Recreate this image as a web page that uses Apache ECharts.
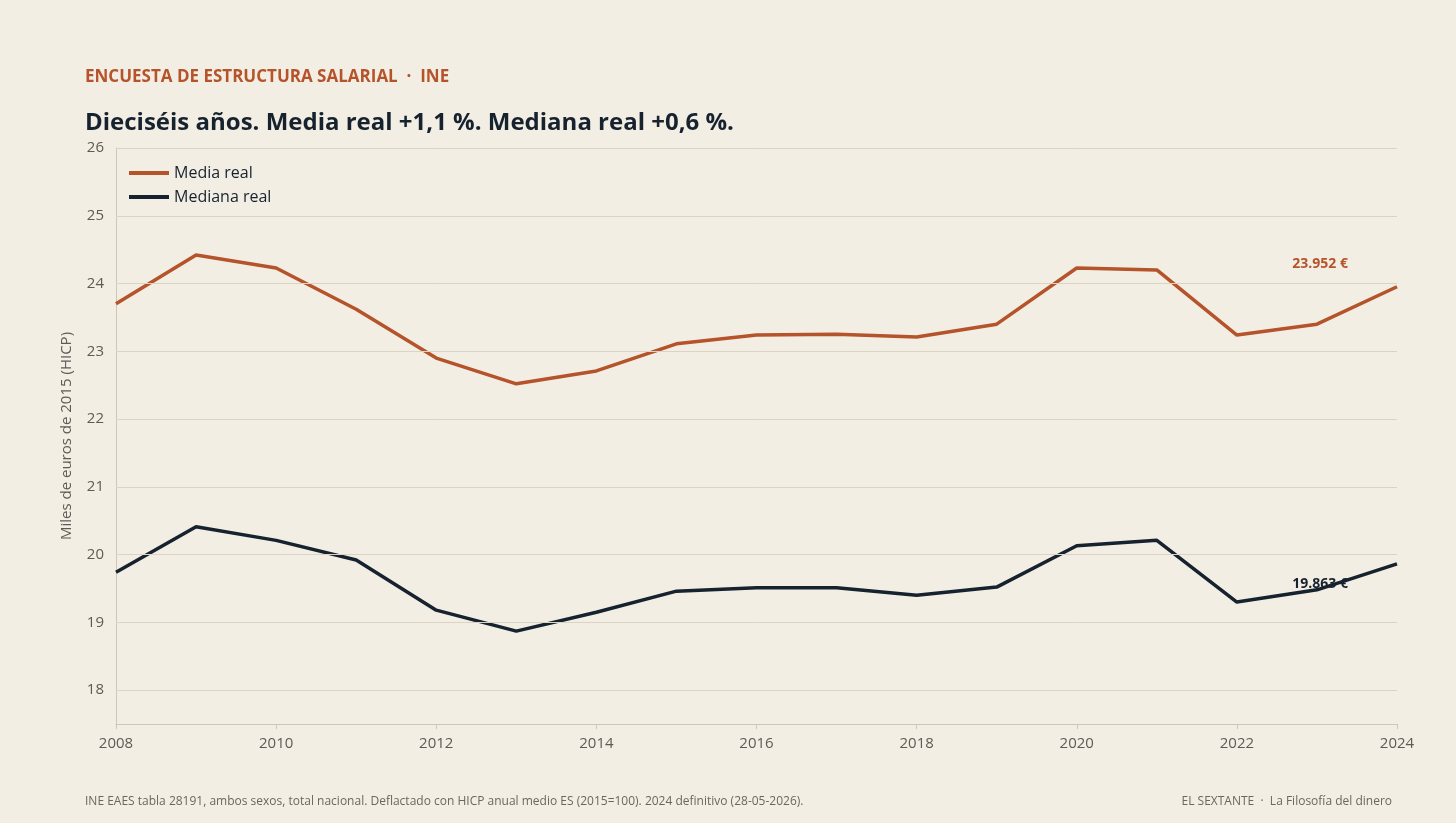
<!DOCTYPE html>
<html lang="es">
<head>
<meta charset="UTF-8">
<title>Encuesta de Estructura Salarial</title>
<script src="https://cdn.jsdelivr.net/npm/echarts@6/dist/echarts.min.js"></script>
<style>
	html, body { margin: 0; padding: 0; background: #f3eee4; }
	#main { width: 1456px; height: 823px; }
</style>
</head>
<body>
<div id="main"></div>
<script>
// datos
var years = [2008, 2009, 2010, 2011, 2012, 2013, 2014, 2015, 2016, 2017, 2018, 2019, 2020, 2021, 2022, 2023, 2024];
var mediaReal = [23.70, 24.42, 24.23, 23.62, 22.90, 22.52, 22.71, 23.11, 23.24, 23.25, 23.21, 23.40, 24.23, 24.20, 23.24, 23.40, 23.952];
var medianaReal = [19.74, 20.41, 20.21, 19.92, 19.18, 18.87, 19.15, 19.46, 19.51, 19.51, 19.40, 19.52, 20.13, 20.21, 19.30, 19.48, 19.863];
var gridValues = [18, 19, 20, 21, 22, 23, 24, 25, 26];

var orange = '#b5532a';
var navy = '#17222f';
var font = 'Open Sans';

function pairs(vals) {
	return years.map(function (y, i) { return [y, vals[i]]; });
}

var chart = echarts.init(document.getElementById('main'));
chart.setOption({
	backgroundColor: '#f3eee4',
	textStyle: { fontFamily: font },
	title: [
		{ text: 'ENCUESTA DE ESTRUCTURA SALARIAL  ·  INE', left: 80, top: 64,
			textStyle: { color: orange, fontSize: 17, fontWeight: 'bold', fontFamily: font } },
		{ text: 'Dieciséis años. Media real +1,1 %. Mediana real +0,6 %.', left: 80, top: 106,
			textStyle: { color: navy, fontSize: 24, fontWeight: 'bold', fontFamily: font } },
		{ text: 'INE EAES tabla 28191, ambos sexos, total nacional. Deflactado con HICP anual medio ES (2015=100). 2024 definitivo (28-05-2026).',
			left: 80, top: 791, textStyle: { color: '#6b6660', fontSize: 12, fontWeight: 'normal', fontFamily: font } },
		{ text: 'EL SEXTANTE  ·  La Filosofía del dinero', right: 59, top: 791,
			textStyle: { color: '#6b6660', fontSize: 12, fontWeight: 'normal', fontFamily: font } }
	],
	legend: {
		left: 124, top: 160, orient: 'vertical', itemGap: 8,
		itemWidth: 40, itemHeight: 4, icon: 'rect',
		textStyle: { color: navy, fontSize: 16, fontFamily: font },
		data: ['Media real', 'Mediana real']
	},
	grid: { left: 116, right: 59, top: 148, bottom: 99 },
	xAxis: {
		type: 'value', min: 2008, max: 2024, interval: 2,
		axisLine: { lineStyle: { color: '#cfc6b8' } },
		axisTick: { show: true, lineStyle: { color: '#cfc6b8' } },
		axisLabel: { color: '#5e5a55', fontSize: 15, margin: 12, formatter: function (v) { return String(v); } },
		splitLine: { show: false }
	},
	yAxis: {
		type: 'value', min: 17.5, max: 26, interval: 0.5,
		name: 'Miles de euros de 2015 (HICP)', nameLocation: 'middle', nameGap: 42,
		nameTextStyle: { color: '#5e5a55', fontSize: 15 },
		axisLine: { show: true, lineStyle: { color: '#cfc6b8' } },
		axisTick: { show: false },
		axisLabel: { color: '#5e5a55', fontSize: 15, margin: 12,
			formatter: function (v) { return Number.isInteger(v) ? String(v) : ''; } },
		splitLine: { show: false }
	},
	series: [
		{
			name: 'Media real', type: 'line', data: pairs(mediaReal), showSymbol: false,
			lineStyle: { color: orange, width: 3.5 }, itemStyle: { color: orange },
			markLine: {
				silent: true, symbol: 'none', label: { show: false },
				lineStyle: { color: '#ddd3c4', width: 1, type: 'solid' },
				data: gridValues.map(function (v) { return { yAxis: v }; })
			},
			markPoint: {
				symbol: 'circle', symbolSize: 0,
				label: { show: true, formatter: '23.952 €', color: orange, fontWeight: 'bold', fontSize: 14,
					position: 'left', offset: [-44, -23] },
				data: [{ coord: [2024, mediaReal[16]] }]
			}
		},
		{
			name: 'Mediana real', type: 'line', data: pairs(medianaReal), showSymbol: false,
			lineStyle: { color: navy, width: 3.5 }, itemStyle: { color: navy },
			markPoint: {
				symbol: 'circle', symbolSize: 0,
				label: { show: true, formatter: '19.863 €', color: navy, fontWeight: 'bold', fontSize: 14,
					position: 'left', offset: [-44, 20] },
				data: [{ coord: [2024, medianaReal[16]] }]
			}
		}
	]
});
</script>
</body>
</html>
